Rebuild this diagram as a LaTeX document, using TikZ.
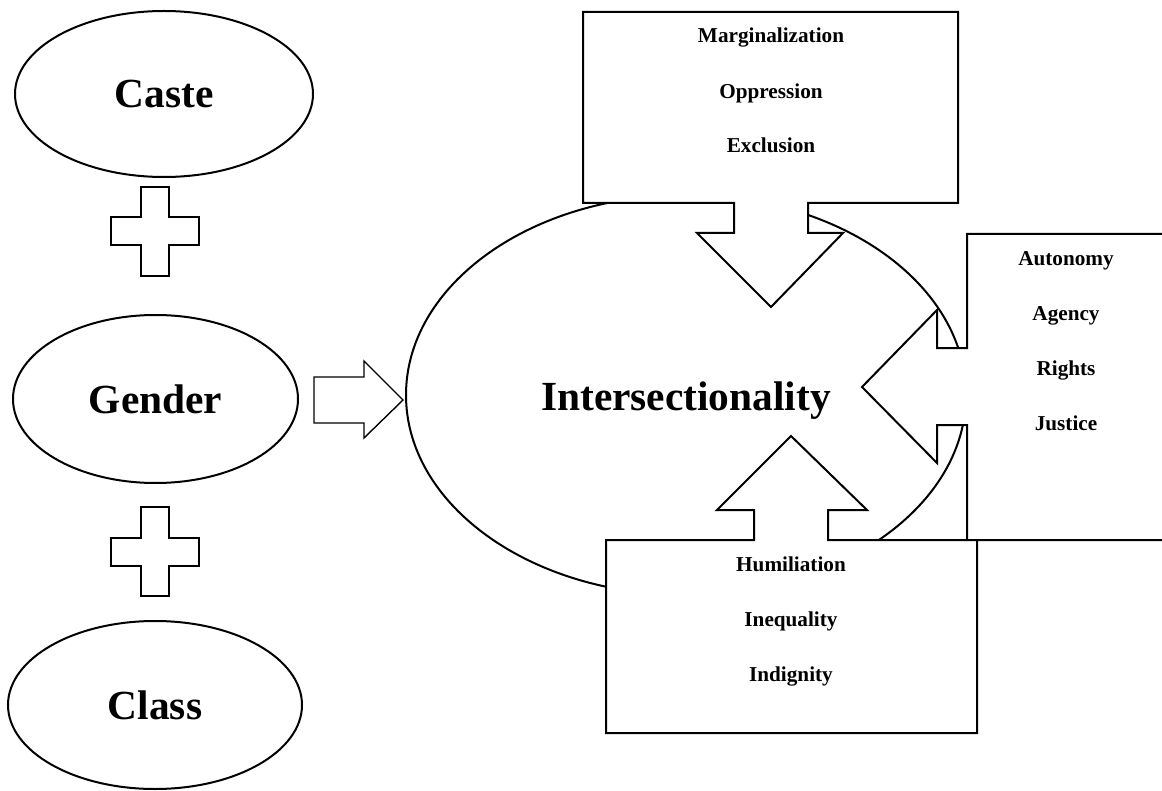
\documentclass[tikz,border=0pt]{standalone}
\usepackage{fontspec}
\setmainfont{Liberation Serif}
\usetikzlibrary{shapes.geometric}
\begin{document}
\begin{tikzpicture}[x=0.5pt,y=-0.5pt,
  bigtext/.style={font=\bfseries\fontsize{20.7}{24}\selectfont},
  smalltext/.style={font=\bfseries\fontsize{10.6}{12}\selectfont, anchor=base},
  oval/.style={draw, ellipse, line width=1pt, inner sep=0pt, bigtext},
  callout/.style={draw, fill=white, line width=1pt, line join=miter},
  plusshape/.style={draw, fill=white, line width=0.7pt},
]
\useasboundingbox (0,0) rectangle (1162,791);
\clip (0,0) rectangle (1162,791);

% the three factors
\node[oval, minimum width=149pt, minimum height=83pt] (caste) at (164,94) {Caste};
\node[oval, minimum width=142.5pt, minimum height=84pt] (gender) at (155.5,399) {Gender};
\node[oval, minimum width=147pt, minimum height=84pt] (class) at (155,705) {Class};

% plus signs between them
\draw[plusshape] (141,187) -- (169,187) -- (169,217) -- (199,217) -- (199,245) -- (169,245)
  -- (169,276) -- (141,276) -- (141,245) -- (111,245) -- (111,217) -- (141,217) -- cycle;
\draw[plusshape] (141,507) -- (169,507) -- (169,538) -- (199,538) -- (199,566) -- (169,566)
  -- (169,596) -- (141,596) -- (141,566) -- (111,566) -- (111,538) -- (141,538) -- cycle;

% central ellipse
\node[draw, ellipse, line width=1pt, inner sep=0pt, minimum width=280pt, minimum height=200pt] (inter) at (686,395) {};
\node[bigtext, anchor=base] (intertext) at (686,410) {Intersectionality};

% block arrow into the central ellipse
\draw[plusshape] (314,377) -- (364,377) -- (364,361) -- (403,400) -- (364,438) -- (364,423) -- (314,423) -- cycle;

% right callout
\draw[callout] (967,234) -- (1170,234) -- (1170,540) -- (967,540) -- (967,425) -- (937,425) -- (937,463)
  -- (862,387) -- (937,310) -- (937,348) -- (967,348) -- cycle;
\node[smalltext] (auto) at (1066,266) {Autonomy};
\node[smalltext] (agen) at (1066,321) {Agency};
\node[smalltext] (righ) at (1066,375) {Rights};
\node[smalltext] (just) at (1066,430) {Justice};

% bottom callout
\draw[callout] (606,540) -- (754,540) -- (754,510) -- (717,510) -- (791,436) -- (867,510) -- (828,510)
  -- (828,540) -- (977,540) -- (977,733) -- (606,733) -- cycle;
\node[smalltext] (humi) at (791,571) {Humiliation};
\node[smalltext] (ineq) at (791,626) {Inequality};
\node[smalltext] (indi) at (791,681) {Indignity};

% top callout
\draw[callout] (583,12) -- (958,12) -- (958,203) -- (808,203) -- (808,233) -- (843,233) -- (771,307)
  -- (697,233) -- (734,233) -- (734,203) -- (583,203) -- cycle;
\node[smalltext] (marg) at (771,43) {Marginalization};
\node[smalltext] (oppr) at (771,99) {Oppression};
\node[smalltext] (excl) at (771,153) {Exclusion};
\end{tikzpicture}
\end{document}
